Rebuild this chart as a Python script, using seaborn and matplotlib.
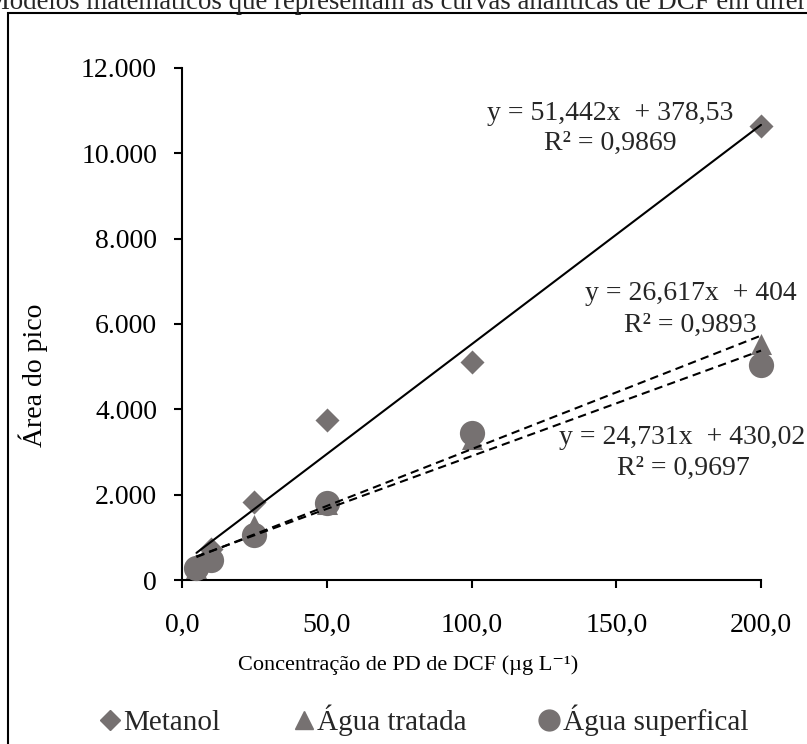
import matplotlib
matplotlib.use("Agg")
import matplotlib.pyplot as plt
import seaborn as sns
import pandas as pd
from matplotlib.patches import Rectangle
from matplotlib.lines import Line2D

sns.set_theme(style="white")
plt.rcParams['font.family'] = ['Liberation Serif', 'DejaVu Serif']

# ---- data ----
conc = [5, 10, 25, 50, 100, 200]
metanol = [330, 720, 1830, 3750, 5100, 10650]
agua_tratada = [280, 560, 1280, 1780, 3300, 5520]
agua_superficial = [270, 470, 1060, 1800, 3440, 5030]
series_names = ["Metanol", "Água tratada", "Água superfical"]
slopes = [51.442, 26.617, 24.731]
intercepts = [378.53, 404, 430.02]
eq_lines = ["y = 51,442x  + 378,53", "y = 26,617x  + 404", "y = 24,731x  + 430,02"]
r2_lines = ["R² = 0,9869", "R² = 0,9893", "R² = 0,9697"]
xticks = [0, 50, 100, 150, 200]
xtick_labels = ["0,0", "50,0", "100,0", "150,0", "200,0"]
yticks = [0, 2000, 4000, 6000, 8000, 10000, 12000]
ytick_labels = ["0", "2.000", "4.000", "6.000", "8.000", "10.000", "12.000"]
title = "Modelos matemáticos que representam as curvas analíticas de DCF em diferentes matrizes"

df = pd.DataFrame({
    "conc": conc * 3,
    "area": metanol + agua_tratada + agua_superficial,
    "serie": [series_names[0]] * 6 + [series_names[1]] * 6 + [series_names[2]] * 6,
})

W, H = 807, 744
fig = plt.figure(figsize=(W / 100, H / 100), dpi=100)
ax = fig.add_axes([182 / W, 1 - 580 / H, (761 - 182) / W, (580 - 68) / H])

gray = "#767171"
markers = {series_names[0]: "D", series_names[1]: "^", series_names[2]: "o"}
sizes = {series_names[0]: 150, series_names[1]: 230, series_names[2]: 330}
for name in series_names:
    sub = df[df["serie"] == name]
    sns.scatterplot(data=sub, x="conc", y="area", marker=markers[name],
                    s=sizes[name], color=gray, edgecolor=gray, linewidth=0,
                    ax=ax, legend=False, zorder=3, clip_on=False)

styles = ["-", (0, (4, 2.5)), (0, (4, 2.5))]
xl = [min(conc), max(conc)]
for m, b, ls in zip(slopes, intercepts, styles):
    ax.plot(xl, [m * xl[0] + b, m * xl[1] + b], color="black", lw=1.5,
            linestyle=ls, zorder=4, clip_on=False)

ax.set_xlim(0, 200)
ax.set_ylim(0, 12000)
ax.set_xticks(xticks)
ax.set_xticklabels(xtick_labels)
ax.set_yticks(yticks)
ax.set_yticklabels(ytick_labels)
ax.tick_params(axis="both", labelsize=20, colors="black", length=6, width=1.5,
               direction="out", bottom=True, left=True)
ax.tick_params(axis="y", pad=12)
ax.tick_params(axis="x", pad=18)
for s in ["top", "right"]:
    ax.spines[s].set_visible(False)
for s in ["left", "bottom"]:
    ax.spines[s].set_color("black")
    ax.spines[s].set_linewidth(1.5)
ax.set_xlabel("Concentração de PD de DCF (µg L⁻¹)", fontsize=16, color="black")
ax.xaxis.set_label_coords((408 - 182) / 579, (580 - 655) / 512)
ax.set_ylabel("Área do pico", fontsize=20, color="black")
ax.yaxis.set_label_coords((48 - 182) / 579, (580 - 375) / 512)
ax.grid(False)

# equation labels
def ftext(x, y, s, ha="center"):
    fig.text(x / W, 1 - y / H, s, fontsize=20, ha=ha, va="center")

ftext(610, 113, eq_lines[0]); ftext(610, 143, r2_lines[0])
ftext(797, 293, eq_lines[1], ha="right"); ftext(690, 325, r2_lines[1])
ftext(805, 437, eq_lines[2], ha="right"); ftext(683, 468, r2_lines[2])

# legend
handles = [Line2D([], [], marker=markers[n], color=gray, linestyle="none",
                  markersize={"Metanol": 10, "Água tratada": 13, "Água superfical": 15}[n])
           for n in series_names]
fig.legend(handles, series_names, loc="center", bbox_to_anchor=(424 / W, 1 - 720 / H),
           ncol=3, frameon=False, fontsize=21, handletextpad=0.1, columnspacing=2.5,
           handlelength=0.7)

# border and clipped title
fig.patches.append(Rectangle((8 / W, -0.1), 1.2, 1 - 13 / H + 0.1, transform=fig.transFigure,
                             fill=False, edgecolor="black", lw=1.5))
fig.text(-14 / W, 1 - 9 / H, title, fontsize=19.4, ha="left", va="baseline")

fig.savefig("out.png", dpi=100)
